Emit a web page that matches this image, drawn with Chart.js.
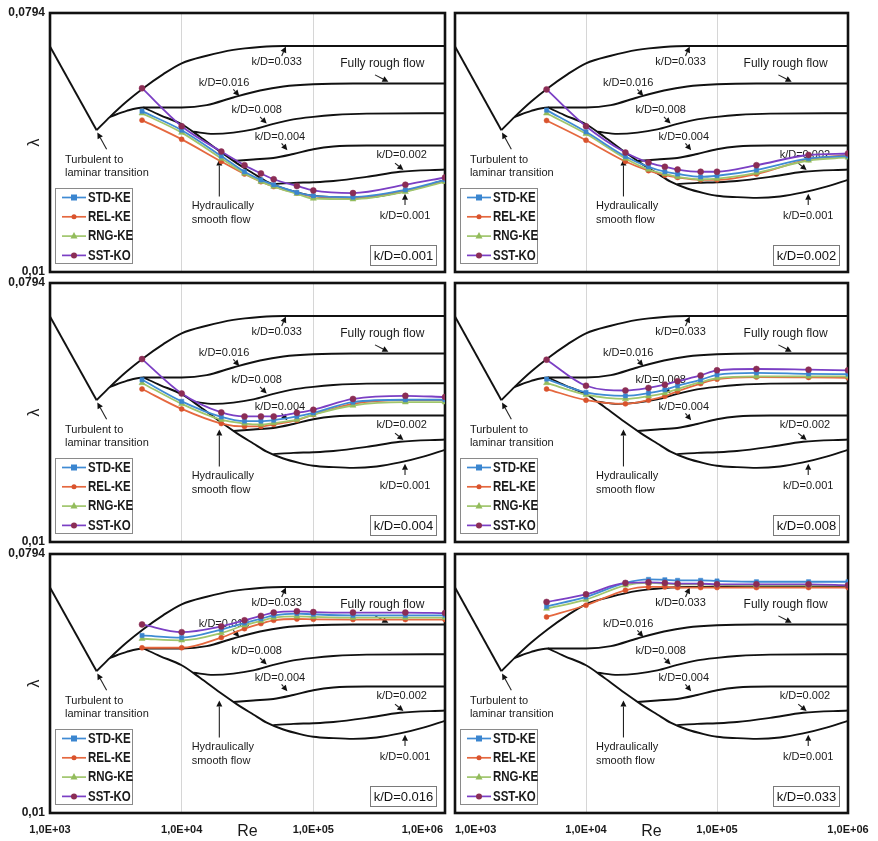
<!DOCTYPE html>
<html>
<head>
<meta charset="utf-8">
<script src="https://cdn.jsdelivr.net/npm/chart.js@4.4.1/dist/chart.umd.min.js"></script>
<style>
  html, body { margin: 0; padding: 0; background: #ffffff; }
  #wrap { position: relative; width: 878px; height: 841px; overflow: hidden; }
  #wrap canvas { position: absolute; left: 0; top: 0; pointer-events: none; }
</style>
</head>
<body>
<div id="wrap"></div>
<script>
// ---------- axis ticks ----------
const reTicks = [1e3, 1e4, 1e5, 1e6];
const reTickLabels = ['1,0E+03', '1,0E+04', '1,0E+05', '1,0E+06'];
const lamTicks = [0.01, 0.0794];
const lamTickLabels = ['0,01', '0,0794'];

// ---------- Moody reference curves (Re, lambda) ----------
const laminarRe  = [1000, 2260];
const laminarLam = [0.0607, 0.0311];

const rough033Re  = [2260, 2855, 3820, 5110, 7260, 10000, 15480, 24670, 39350, 59170, 1000000];
const rough033Lam = [0.0311, 0.0346, 0.0391, 0.0435, 0.0487, 0.0531, 0.0564, 0.0591, 0.0605, 0.0610, 0.0610];

const rough016Re  = [2855, 3820, 5110, 10000, 15480, 24670, 39350, 59170, 100000, 200000, 1000000];
const rough016Lam = [0.0346, 0.0363, 0.0373, 0.0373, 0.0380, 0.0404, 0.0427, 0.0441, 0.0449, 0.0452, 0.0452];

const smoothRe  = [5110, 6840, 10000, 13770, 19550, 26170, 34990, 44240, 59170, 79260, 100000, 141900, 201200, 302700, 455000, 683900, 1000000];
const smoothLam = [0.0373, 0.0351, 0.0326, 0.0295, 0.0262, 0.0239, 0.0220, 0.0206, 0.0195, 0.0188, 0.0184, 0.0182, 0.0181, 0.0183, 0.0189, 0.0198, 0.0209];

const rough008Re  = [12270, 17400, 24670, 34990, 49660, 70470, 100000, 141900, 254000, 1000000];
const rough008Lam = [0.0307, 0.0302, 0.0305, 0.0313, 0.0327, 0.0339, 0.0346, 0.0351, 0.0355, 0.0356];

const rough004Re  = [24670, 34990, 49660, 70470, 100000, 141900, 254000, 1000000];
const rough004Lam = [0.0243, 0.0246, 0.0249, 0.0257, 0.0267, 0.0273, 0.0275, 0.0275];

const rough002Re  = [49660, 70470, 100000, 141900, 254000, 455000, 1000000];
const rough002Lam = [0.0202, 0.0204, 0.0205, 0.0207, 0.0214, 0.0223, 0.0227];

// ---------- CFD results: Reynolds numbers simulated ----------
const reCFD = [5000, 10000, 20000, 30000, 40000, 50000, 75000, 100000, 200000, 500000, 1000000];

// k/D = 0.001
const std_001 = [0.0362, 0.0311, 0.0253, 0.0223, 0.0209, 0.0201, 0.0189, 0.0184, 0.0182, 0.0193, 0.0209];
const rel_001 = [0.0337, 0.0289, 0.0242, 0.0219, 0.0206, 0.0198, 0.0188, 0.0183, 0.0181, 0.0192, 0.0207];
const rng_001 = [0.0356, 0.0305, 0.0248, 0.0220, 0.0206, 0.0198, 0.0187, 0.0180, 0.0179, 0.0190, 0.0206];
const sst_001 = [0.0435, 0.0321, 0.0262, 0.0235, 0.0220, 0.0210, 0.0199, 0.0192, 0.0188, 0.0201, 0.0213];
// k/D = 0.002
const std_002 = [0.0365, 0.0307, 0.0252, 0.0232, 0.0223, 0.0219, 0.0214, 0.0216, 0.0226, 0.0248, 0.0253];
const rel_002 = [0.0336, 0.0287, 0.0242, 0.0225, 0.0217, 0.0213, 0.0209, 0.0209, 0.0219, 0.0246, 0.0255];
const rng_002 = [0.0356, 0.0302, 0.0248, 0.0227, 0.0219, 0.0214, 0.0210, 0.0211, 0.0221, 0.0244, 0.0250];
const sst_002 = [0.0431, 0.0321, 0.0260, 0.0240, 0.0232, 0.0227, 0.0223, 0.0223, 0.0235, 0.0255, 0.0258];
// k/D = 0.004
const std_004 = [0.0366, 0.0308, 0.0272, 0.0263, 0.0263, 0.0265, 0.0273, 0.0281, 0.0306, 0.0312, 0.0312];
const rel_004 = [0.0340, 0.0290, 0.0258, 0.0252, 0.0252, 0.0256, 0.0265, 0.0277, 0.0302, 0.0311, 0.0311];
const rng_004 = [0.0357, 0.0302, 0.0266, 0.0258, 0.0256, 0.0259, 0.0266, 0.0277, 0.0298, 0.0306, 0.0306];
const sst_004 = [0.0432, 0.0328, 0.0282, 0.0273, 0.0273, 0.0273, 0.0281, 0.0288, 0.0314, 0.0322, 0.0319];
// k/D = 0.008
const std_008 = [0.0368, 0.0331, 0.0322, 0.0329, 0.0338, 0.0349, 0.0366, 0.0381, 0.0387, 0.0384, 0.0383];
const rel_008 = [0.0340, 0.0311, 0.0302, 0.0311, 0.0321, 0.0334, 0.0355, 0.0368, 0.0374, 0.0373, 0.0372];
const rng_008 = [0.0357, 0.0325, 0.0314, 0.0321, 0.0329, 0.0340, 0.0359, 0.0371, 0.0376, 0.0376, 0.0376];
const sst_008 = [0.0430, 0.0349, 0.0336, 0.0343, 0.0352, 0.0362, 0.0379, 0.0395, 0.0399, 0.0397, 0.0395];
// k/D = 0.016
const std_016 = [0.0414, 0.0407, 0.0434, 0.0457, 0.0473, 0.0486, 0.0493, 0.0490, 0.0486, 0.0486, 0.0486];
const rel_016 = [0.0375, 0.0375, 0.0407, 0.0437, 0.0455, 0.0467, 0.0472, 0.0471, 0.0470, 0.0470, 0.0470];
const rng_016 = [0.0403, 0.0398, 0.0422, 0.0449, 0.0465, 0.0477, 0.0482, 0.0480, 0.0477, 0.0477, 0.0477];
const sst_016 = [0.0452, 0.0425, 0.0445, 0.0467, 0.0484, 0.0497, 0.0502, 0.0499, 0.0497, 0.0497, 0.0495];
// k/D = 0.033
const std_033 = [0.0522, 0.0563, 0.0630, 0.0648, 0.0646, 0.0643, 0.0643, 0.0640, 0.0636, 0.0636, 0.0636];
const rel_033 = [0.0480, 0.0527, 0.0594, 0.0610, 0.0610, 0.0607, 0.0607, 0.0607, 0.0607, 0.0607, 0.0607];
const rng_033 = [0.0513, 0.0551, 0.0618, 0.0630, 0.0626, 0.0623, 0.0623, 0.0620, 0.0618, 0.0618, 0.0618];
const sst_033 = [0.0541, 0.0575, 0.0630, 0.0633, 0.0630, 0.0626, 0.0626, 0.0623, 0.0623, 0.0623, 0.0618];

const panelRoughness = ['0.001', '0.002', '0.004', '0.008', '0.016', '0.033'];
const panelSeries = [
  [std_001, rel_001, rng_001, sst_001],
  [std_002, rel_002, rng_002, sst_002],
  [std_004, rel_004, rng_004, sst_004],
  [std_008, rel_008, rng_008, sst_008],
  [std_016, rel_016, rng_016, sst_016],
  [std_033, rel_033, rng_033, sst_033]
];

// ---------- styling ----------
const FONT = "'Liberation Sans', Arial, sans-serif";
const INK = '#1a1a1a';

const seriesDefs = [
  { label: 'STD-KE', line: '#3f8bd4', marker: '#3a85cf', shape: 'rect',     radius: 3,   order: 1 },
  { label: 'REL-KE', line: '#e5683f', marker: '#d9532d', shape: 'circle',   radius: 2.5, order: 3 },
  { label: 'RNG-KE', line: '#a0c66c', marker: '#93bc5c', shape: 'triangle', radius: 3.5, order: 2 },
  { label: 'SST-KO', line: '#7b3fc4', marker: '#8b2d55', shape: 'circle',   radius: 3,   order: 0 }
];

const moodyCurves = [
  { re: laminarRe, lam: laminarLam, smooth: false },
  { re: rough033Re, lam: rough033Lam, smooth: true },
  { re: rough016Re, lam: rough016Lam, smooth: true },
  { re: smoothRe,   lam: smoothLam,   smooth: true },
  { re: rough008Re, lam: rough008Lam, smooth: true },
  { re: rough004Re, lam: rough004Lam, smooth: true },
  { re: rough002Re, lam: rough002Lam, smooth: true }
];

// text notes on the diagram, anchored in (Re, lambda)
const notes = [
  { text: 'k/D=0.033', re: 52700, lam: 0.0538, align: 'center' },
  { text: 'Fully rough flow', re: 334000, lam: 0.0531, align: 'center', size: 12 },
  { text: 'k/D=0.016', re: 20990, lam: 0.0452, align: 'center' },
  { text: 'k/D=0.008', re: 37150, lam: 0.0365, align: 'center' },
  { text: 'k/D=0.004', re: 55800, lam: 0.0294, align: 'center' },
  { text: 'k/D=0.002', re: 469000, lam: 0.0255, align: 'center' },
  { text: 'k/D=0.001', re: 497000, lam: 0.01565, align: 'center' },
  { text: 'Turbulent to', re: 1300, lam: 0.0246, align: 'left' },
  { text: 'laminar transition', re: 1300, lam: 0.0221, align: 'left' },
  { text: 'Hydraulically', re: 11910, lam: 0.01696, align: 'left' },
  { text: 'smooth flow', re: 11910, lam: 0.01516, align: 'left' }
];
// pointer arrows: tail -> head, in (Re, lambda)
const pointers = [
  { re0: 57500, lam0: 0.0563, re1: 61900, lam1: 0.0607 },
  { re0: 294000, lam0: 0.0484, re1: 371500, lam1: 0.0458 },
  { re0: 24670, lam0: 0.0431, re1: 27400, lam1: 0.0409 },
  { re0: 39350, lam0: 0.0346, re1: 44240, lam1: 0.0328 },
  { re0: 57400, lam0: 0.0280, re1: 63500, lam1: 0.0265 },
  { re0: 417000, lam0: 0.0239, re1: 483000, lam1: 0.0226 },
  { re0: 497000, lam0: 0.0171, re1: 497000, lam1: 0.0187 },
  { re0: 2692, lam0: 0.0267, re1: 2288, lam1: 0.0305 },
  { re0: 19320, lam0: 0.0183, re1: 19320, lam1: 0.0246 }
];

// panel placement on the page
const colLeft = [50, 455], colRight = [445, 848];
const rowTop = [13, 283, 554], rowBottom = [272, 542, 813];
const W = 878, H = 841;

function drawMarker(ctx, shape, x, y, r, fill) {
  ctx.fillStyle = fill;
  ctx.beginPath();
  if (shape === 'rect') {
    ctx.rect(x - r, y - r, 2 * r, 2 * r);
  } else if (shape === 'triangle') {
    ctx.moveTo(x, y - r * 1.15);
    ctx.lineTo(x + r, y + r * 0.65);
    ctx.lineTo(x - r, y + r * 0.65);
    ctx.closePath();
  } else {
    ctx.arc(x, y, r, 0, Math.PI * 2);
  }
  ctx.fill();
}

// frame, notes and pointers sit under the data lines
const underlayPlugin = {
  id: 'underlay',
  beforeDatasetsDraw(chart) {
    const { ctx, chartArea: a, scales: { x, y } } = chart;
    ctx.save();
    ctx.strokeStyle = '#111';
    ctx.lineWidth = 2.6;
    ctx.strokeRect(a.left, a.top, a.right - a.left, a.bottom - a.top);

    ctx.fillStyle = INK;
    ctx.textBaseline = 'middle';
    notes.forEach(n => {
      ctx.font = (n.size || 11) + 'px ' + FONT;
      ctx.textAlign = n.align;
      ctx.fillText(n.text, x.getPixelForValue(n.re), y.getPixelForValue(n.lam));
    });

    ctx.strokeStyle = '#222';
    ctx.fillStyle = '#111';
    ctx.lineWidth = 1.1;
    pointers.forEach(p => {
      const x0 = x.getPixelForValue(p.re0), y0 = y.getPixelForValue(p.lam0);
      const x1 = x.getPixelForValue(p.re1), y1 = y.getPixelForValue(p.lam1);
      const ang = Math.atan2(y1 - y0, x1 - x0);
      const hl = 6, hw = 3;
      const bx = x1 - hl * Math.cos(ang), by = y1 - hl * Math.sin(ang);
      ctx.beginPath();
      ctx.moveTo(x0, y0);
      ctx.lineTo(bx, by);
      ctx.stroke();
      ctx.beginPath();
      ctx.moveTo(x1, y1);
      ctx.lineTo(bx + hw * Math.sin(ang), by - hw * Math.cos(ang));
      ctx.lineTo(bx - hw * Math.sin(ang), by + hw * Math.cos(ang));
      ctx.closePath();
      ctx.fill();
    });
    ctx.restore();
  }
};

// legend box, roughness tag and bottom tick labels on top
const overlayPlugin = {
  id: 'overlay',
  afterDraw(chart) {
    const { ctx, chartArea: a } = chart;
    const cfg = chart.options.plugins.overlay;
    ctx.save();

    // legend (condensed bold labels)
    const lx = a.left + 5, ly = a.bottom - 84, lw = 77, lh = 75;
    ctx.fillStyle = '#fff';
    ctx.fillRect(lx, ly, lw, lh);
    ctx.strokeStyle = '#8a8a8a';
    ctx.lineWidth = 1;
    ctx.strokeRect(lx + 0.5, ly + 0.5, lw, lh);
    seriesDefs.forEach((s, i) => {
      const cy = ly + 9.5 + i * 19.3;
      ctx.strokeStyle = s.line;
      ctx.lineWidth = 1.7;
      ctx.beginPath();
      ctx.moveTo(lx + 7, cy);
      ctx.lineTo(lx + 31, cy);
      ctx.stroke();
      drawMarker(ctx, s.shape, lx + 19, cy, s.radius, s.marker);
      ctx.save();
      ctx.translate(lx + 33, cy + 0.5);
      ctx.scale(0.82, 1);
      ctx.fillStyle = INK;
      ctx.font = 'bold 14px ' + FONT;
      ctx.textAlign = 'left';
      ctx.textBaseline = 'middle';
      ctx.fillText(s.label, 0, 0);
      ctx.restore();
    });

    // roughness tag
    const tw = 66, th = 20;
    const tx = a.right - 9 - tw, ty = a.bottom - 7 - th;
    ctx.fillStyle = '#fff';
    ctx.fillRect(tx, ty, tw, th);
    ctx.strokeStyle = '#7a7a7a';
    ctx.lineWidth = 1;
    ctx.strokeRect(tx + 0.5, ty + 0.5, tw, th);
    ctx.fillStyle = '#111';
    ctx.font = '13px ' + FONT;
    ctx.textAlign = 'center';
    ctx.textBaseline = 'middle';
    ctx.fillText('k/D=' + cfg.kd, tx + tw / 2 + 0.5, ty + th / 2 + 1);

    // Re tick labels on the bottom row
    if (cfg.bottomRow) {
      const xs = chart.scales.x;
      ctx.fillStyle = INK;
      ctx.font = 'bold 11px ' + FONT;
      ctx.textBaseline = 'middle';
      reTicks.forEach((v, i) => {
        let px = xs.getPixelForValue(v);
        let al = 'center';
        if (cfg.col === 0 && i === reTicks.length - 1) { al = 'right'; px -= 2; }
        if (cfg.col === 1 && i === 0) { al = 'left'; }
        ctx.textAlign = al;
        ctx.fillText(reTickLabels[i], px, a.bottom + 17);
      });
    }
    ctx.restore();
  }
};

const wrap = document.getElementById('wrap');

panelRoughness.forEach((kd, p) => {
  const row = Math.floor(p / 2), col = p % 2;
  const canvas = document.createElement('canvas');
  canvas.width = W;
  canvas.height = H;
  canvas.style.width = W + 'px';
  canvas.style.height = H + 'px';
  wrap.appendChild(canvas);

  const datasets = [];
  seriesDefs.forEach((s, k) => {
    const vals = panelSeries[p][k];
    datasets.push({
      label: s.label,
      data: reCFD.map((re, i) => ({ x: re, y: vals[i] })),
      borderColor: s.line,
      borderWidth: 1.8,
      pointStyle: s.shape,
      pointRadius: s.radius,
      pointBackgroundColor: s.marker,
      pointBorderColor: s.marker,
      pointBorderWidth: 0.5,
      cubicInterpolationMode: 'monotone',
      order: s.order
    });
  });
  moodyCurves.forEach(c => {
    datasets.push({
      label: '',
      data: c.re.map((re, i) => ({ x: re, y: c.lam[i] })),
      borderColor: '#111',
      borderWidth: 1.9,
      pointRadius: 0,
      tension: 0,
      cubicInterpolationMode: c.smooth ? 'monotone' : 'default',
      order: 10
    });
  });

  const bottomRow = row === 2;
  new Chart(canvas, {
    type: 'line',
    data: { datasets },
    plugins: [underlayPlugin, overlayPlugin],
    options: {
      responsive: false,
      animation: false,
      events: [],
      devicePixelRatio: 1,
      layout: {
        padding: {
          left: col === 0 ? 0 : colLeft[1],
          right: W - colRight[col],
          top: rowTop[row],
          bottom: bottomRow ? 0 : H - rowBottom[row]
        }
      },
      plugins: {
        legend: { display: false },
        tooltip: { enabled: false },
        overlay: { kd, col, bottomRow }
      },
      scales: {
        x: {
          type: 'logarithmic',
          min: reTicks[0],
          max: reTicks[reTicks.length - 1],
          afterBuildTicks: s => { s.ticks = reTicks.map(v => ({ value: v })); },
          afterFit: s => { s.height = bottomRow ? 28 : 0; },
          ticks: { display: false },
          grid: { color: '#d6d6d6', lineWidth: 1, drawTicks: false },
          border: { display: false },
          title: {
            display: bottomRow,
            text: 'Re',
            color: INK,
            font: { family: FONT, size: 16 },
            padding: { top: 0, bottom: 0 }
          }
        },
        y: {
          type: 'logarithmic',
          min: lamTicks[0],
          max: lamTicks[lamTicks.length - 1],
          afterBuildTicks: s => { s.ticks = lamTicks.map(v => ({ value: v })); },
          afterFit: s => { s.width = col === 0 ? colLeft[0] : 0; },
          ticks: {
            display: col === 0,
            callback: (v, i) => lamTickLabels[i],
            color: INK,
            font: { family: FONT, size: 12, weight: 'bold' },
            padding: 5
          },
          grid: { display: false, drawTicks: false },
          border: { display: false },
          title: {
            display: col === 0,
            text: 'λ',
            color: INK,
            font: { family: FONT, size: 16 },
            padding: { top: 25, bottom: 0 }
          }
        }
      }
    }
  });
});
</script>
</body>
</html>
